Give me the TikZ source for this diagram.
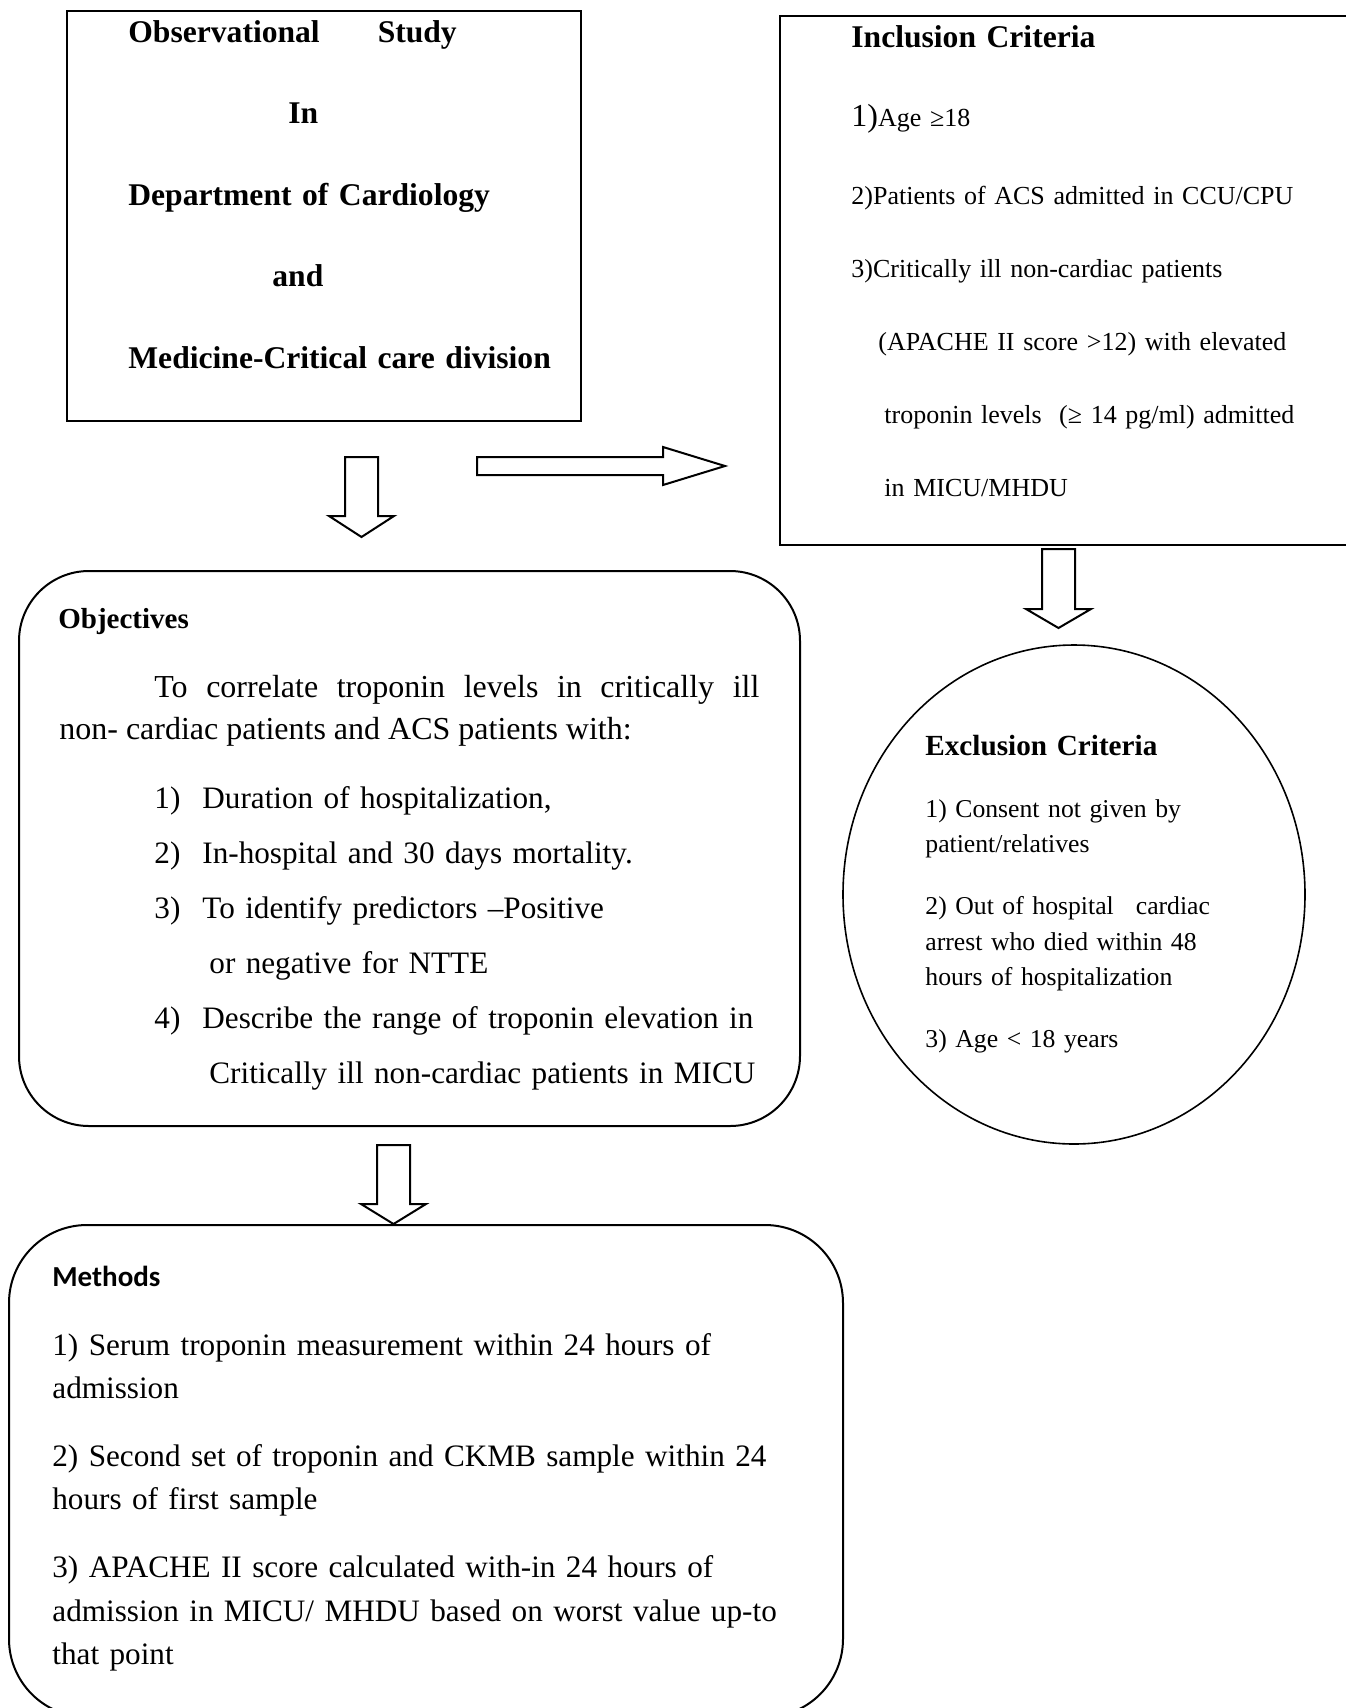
\documentclass[tikz,border=0pt]{standalone}
\usepackage{fontspec}
\setmainfont{Liberation Serif}
\newfontfamily\calibrifont{Carlito}
\usetikzlibrary{shapes.geometric, calc}

\newcommand{\hollowdown}[3]{% start, shaft length, head length
  \draw[blockarrow] (#1) ++(-16.5,0) -- ++(0,#2) -- ++(-16,0) -- ++(32.5,#3)
    -- ++(32.5,-#3) -- ++(-16,0) -- ++(0,-#2) -- cycle;}

\begin{document}
\begin{tikzpicture}[x=0.5pt, y=-0.5pt,
    box/.style={draw, line width=1pt, inner sep=0pt, anchor=north west},
    roundbox/.style={box, rounded corners=#1},
    txt/.style={inner sep=0pt, anchor=base west, text width=380pt, align=left},
    blockarrow/.style={draw, line width=1pt, line join=miter}]

  \useasboundingbox (0,0) rectangle (1345,1708);

  % boxes
  \node[box, minimum width=257pt, minimum height=205pt] (study) at (66,10) {};
  \node[box, line width=1.2pt, minimum width=290pt, minimum height=264.5pt] (incl) at (779,15) {};
  \node[roundbox=35pt, minimum width=390.5pt, minimum height=277.5pt] (obj) at (18,570) {};
  \node[draw, ellipse, line width=0.8pt, inner sep=0pt, minimum width=231pt, minimum height=249.5pt] (excl) at (1074,894.5) {};
  \node[roundbox=39pt, minimum width=417pt, minimum height=246pt] (meth) at (8,1224) {};

  % study box
  \node[txt, font=\bfseries\fontsize{15.8}{40.75}\selectfont] (studytxt) at (128,42)
    {Observational\hspace{29pt}Study\\ \hspace*{80pt}In\\ Department of Cardiology\\
     \hspace*{72pt}and\\ Medicine-Critical care division};

  % inclusion
  \node[txt, font=\bfseries\fontsize{15.8}{19}\selectfont] (incltitle) at (851,47) {Inclusion Criteria};
  \node[txt, font=\fontsize{13}{36.5}\selectfont] (incltxt) at (851,126)
    {{\fontsize{16}{19}\selectfont 1)}Age ≥18\\[2.5pt]
     2)Patients of ACS admitted in CCU/CPU\\
     3)Critically ill non-cardiac patients\\
     \hspace*{13.5pt}(APACHE II score >12) with elevated\\
     \hspace*{16.5pt}troponin levels\ \ (≥ 14 pg/ml) admitted\\
     \hspace*{16.5pt}in MICU/MHDU};

  % objectives
  \node[txt, font=\bfseries\fontsize{14.5}{17}\selectfont] (objtitle) at (58,628) {Objectives};
  \node[txt, text width=350pt, align=justify, font=\fontsize{16}{21}\selectfont] (objtxt) at (59,697)
    {\hspace*{47.5pt}To correlate troponin levels in critically ill\linebreak
     non- cardiac patients and ACS patients with:};
  \node[txt, font=\fontsize{15.6}{27.5}\selectfont] (objlist) at (154,808)
    {\makebox[24pt][l]{1)}Duration of hospitalization,\\
     \makebox[24pt][l]{2)}In-hospital and 30 days mortality.\\
     \makebox[24pt][l]{3)}To identify predictors –Positive\\
     \hspace*{27.5pt}or negative for NTTE\\
     \makebox[24pt][l]{4)}Describe the range of troponin elevation in\\
     \hspace*{27.5pt}Critically ill non-cardiac patients in MICU};

  % exclusion
  \node[txt, font=\bfseries\fontsize{14.6}{17}\selectfont] (excltitle) at (925,755) {Exclusion Criteria};
  \node[txt, font=\fontsize{12.85}{17.75}\selectfont] (excltxt) at (925,817)
    {1) Consent not given by\\ patient/relatives\\[13.25pt]
     2) Out of hospital\hspace{11pt}cardiac\\ arrest who died within 48\\
     hours of hospitalization\\[13.25pt]
     3) Age < 18 years};

  % methods
  \node[txt, font=\calibrifont\bfseries\fontsize{14.5}{17}\selectfont] (methtitle) at (52,1286) {Methods};
  \node[txt, font=\fontsize{15.6}{21.6}\selectfont] (methtxt) at (52,1355)
    {1) Serum troponin measurement within 24 hours of\\ admission\\[12.5pt]
     2) Second set of troponin and CKMB sample within 24\\ hours of first sample\\[12.5pt]
     3) APACHE II score calculated with-in 24 hours of\\
     admission in MICU/ MHDU based on worst value up-to\\ that point};

  % arrows
  \coordinate (a1) at (361.5,457);
  \coordinate (a2) at (1058.5,549);
  \coordinate (a3) at (393.5,1145);
  \coordinate (ar) at (477,466);
  \hollowdown{a1}{59}{21}
  \hollowdown{a2}{60}{19}
  \hollowdown{a3}{59}{20}
  \draw[blockarrow] (ar) ++(0,-9) -- ++(186,0) -- ++(0,-10) -- ++(62,19)
    -- ++(-62,19) -- ++(0,-10) -- ++(-186,0) -- cycle;
\end{tikzpicture}
\end{document}
